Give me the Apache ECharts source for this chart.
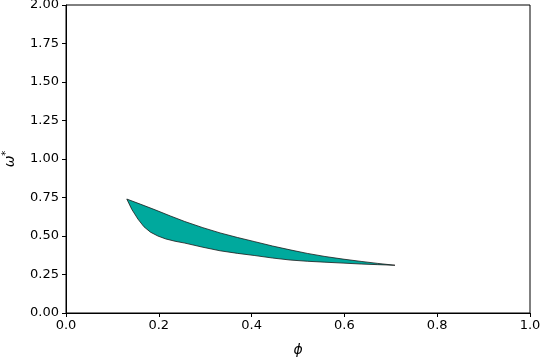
<!DOCTYPE html>
<html>
<head>
<meta charset="utf-8">
<script src="https://cdn.jsdelivr.net/npm/echarts@6/dist/echarts.min.js"></script>
<style>html,body{margin:0;padding:0;background:#fff}#c{width:540px;height:360px}</style>
</head>
<body>
<div id="c"></div>
<script>
// Upper boundary of the region (phi, omega*)
const upperX = [0.131, 0.160, 0.192, 0.225, 0.256, 0.295, 0.332, 0.370, 0.407, 0.445, 0.483, 0.520, 0.558, 0.597, 0.636, 0.672, 0.709];
const upperY = [0.740, 0.707, 0.670, 0.630, 0.594, 0.554, 0.520, 0.490, 0.463, 0.435, 0.410, 0.387, 0.367, 0.350, 0.335, 0.322, 0.310];
// Lower boundary of the region
const lowerX = [0.131, 0.142, 0.155, 0.168, 0.182, 0.198, 0.215, 0.235, 0.256, 0.295, 0.332, 0.370, 0.407, 0.445, 0.483, 0.520, 0.558, 0.597, 0.636, 0.672, 0.709];
const lowerY = [0.740, 0.672, 0.610, 0.560, 0.525, 0.500, 0.481, 0.466, 0.454, 0.427, 0.404, 0.387, 0.373, 0.357, 0.344, 0.336, 0.330, 0.324, 0.318, 0.314, 0.310];

const xTicks = [0, 0.2, 0.4, 0.6, 0.8, 1.0];
const yTicks = [0, 0.25, 0.5, 0.75, 1.0, 1.25, 1.5, 1.75, 2.0];

const polygon = [];
for (let i = 0; i < upperX.length; i++) polygon.push([upperX[i], upperY[i]]);
for (let i = lowerX.length - 1; i >= 0; i--) polygon.push([lowerX[i], lowerY[i]]);

const chart = echarts.init(document.getElementById('c'), null, {renderer: 'canvas'});
const font = 'DejaVu Sans';
chart.setOption({
  animation: false,
  backgroundColor: '#fff',
  grid: {left: 66, right: 10, top: 5, bottom: 47, containLabel: false, outerBoundsMode: 'none',
         show: true, borderColor: '#000', borderWidth: 1, backgroundColor: 'transparent'},
  xAxis: {
    type: 'value', min: xTicks[0], max: xTicks[xTicks.length - 1], interval: 0.2,
    name: 'ϕ', nameLocation: 'middle', nameGap: 30,
    nameTextStyle: {fontFamily: font, fontSize: 14, fontStyle: 'italic', color: '#000'},
    axisLine: {show: true, lineStyle: {color: '#000', width: 1}},
    axisTick: {show: true, inside: false, length: 4, lineStyle: {color: '#000'}},
    axisLabel: {fontFamily: font, fontSize: 13, color: '#000', margin: 6, formatter: v => v.toFixed(1)},
    splitLine: {show: false}
  },
  yAxis: {
    type: 'value', min: yTicks[0], max: yTicks[yTicks.length - 1], interval: 0.25,
    name: '{w|ω}{s|*}', nameLocation: 'middle', nameGap: 46, nameRotate: 90,
    nameTextStyle: {fontFamily: font, fontSize: 14, color: '#000',
      rich: {w: {fontFamily: font, fontSize: 14, fontStyle: 'italic', color: '#000'},
             s: {fontFamily: font, fontSize: 10, color: '#000', padding: [0, 0, 9, 0]}}},
    axisLine: {show: true, lineStyle: {color: '#000', width: 1}},
    axisTick: {show: true, inside: false, length: 4, lineStyle: {color: '#000'}},
    axisLabel: {fontFamily: font, fontSize: 13, color: '#000', margin: 7, formatter: v => v.toFixed(2)},
    splitLine: {show: false}
  },
  series: [{
    type: 'custom',
    data: [[upperX[0], upperY[0]]],
    clip: true,
    renderItem: function (params, api) {
      const pts = polygon.map(p => api.coord(p));
      return {
        type: 'polygon',
        shape: {points: pts},
        style: {fill: '#00A99D', stroke: '#1a1a1a', lineWidth: 0.8}
      };
    }
  }]
});
</script>
</body>
</html>
